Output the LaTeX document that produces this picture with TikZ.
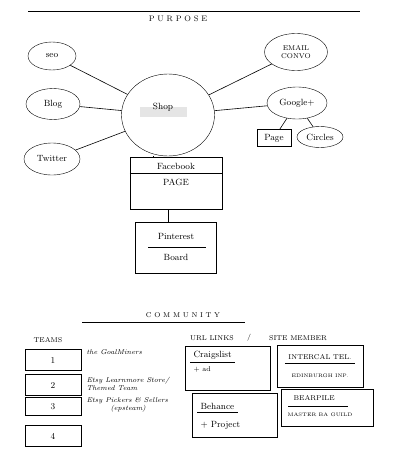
\documentclass[tikz,border=0pt]{standalone}
\usepackage{tikz}
\usetikzlibrary{shapes.geometric,positioning,calc}

\begin{document}
\begin{tikzpicture}[x=1pt,y=-1pt,
    bubble/.style={draw, ellipse, inner sep=0pt, align=center, font=\small},
    card/.style={draw, minimum width=85pt, minimum height=44pt},
    teambox/.style={draw, minimum width=56pt, minimum height=21pt, font=\small},
    note/.style={anchor=west, font=\scriptsize\itshape, align=left},
    link/.style={semithick}
]
\useasboundingbox (0,0) rectangle (405,466);

% purpose header
\coordinate (topl) at (28,11);
\coordinate (topr) at (360,11);
\draw[link] (topl) -- (topr);
\node[font=\footnotesize] (purpose) at (178,19) {P U R P O S E};

% hub
\node[fill=gray!20, minimum width=47pt, minimum height=10pt, inner sep=0pt] (shl) at (163,112) {};
\node[bubble, minimum width=93pt, minimum height=82pt] (shop) at (168,115) {};
\node[font=\small] (shoptxt) at (163,107) {Shop};

% outer bubbles
\node[bubble, minimum width=48pt, minimum height=28pt] (seo) at (52,56) {seo};
\node[bubble, minimum width=54pt, minimum height=31pt] (blog) at (53,104) {Blog};
\node[bubble, minimum width=56pt, minimum height=32pt] (twitter) at (52,159) {Twitter};
\node[bubble, minimum width=63pt, minimum height=37pt, font=\scriptsize] (email) at (296,52) {EMAIL\\CONVO};
\node[bubble, minimum width=60pt, minimum height=32pt] (google) at (297,103) {Google+};
\node[draw, minimum width=34pt, minimum height=17pt, font=\small] (gpage) at (274,138) {Page};
\node[bubble, minimum width=46pt, minimum height=21pt] (circles) at (320,137) {Circles};

\draw[link] (seo) -- (shop);
\draw[link] (blog) -- (shop);
\draw[link] (twitter) -- (shop);
\draw[link] (email) -- (shop);
\draw[link] (google) -- (shop);
\draw[link] (google) -- (gpage);
\draw[link] (google) -- (circles);

% facebook and pinterest
\node[draw, minimum width=92pt, minimum height=52pt] (fb) at (176,183) {};
\node[font=\small] (fbtitle) at (176,166) {Facebook};
\node[font=\small] (fbpage) at (176,182) {PAGE};
\draw[link] ([yshift=-16pt]fb.north west) -- ([yshift=-16pt]fb.north east);
\node[draw, minimum width=81pt, minimum height=51pt] (pin) at (176,248) {};
\node[font=\small] (pintitle) at (176,236) {Pinterest};
\node[font=\small] (pinboard) at (176,257) {Board};
\draw[link] ([xshift=13pt,yshift=-25pt]pin.north west) -- ([xshift=-11pt,yshift=-25pt]pin.north east);

\draw[link] (shop.south -| fbtitle.west) -- (fb.north -| fbtitle.west);
\draw[link] ([xshift=-8pt]fb.south) -- ([xshift=-8pt]pin.north);

% community header
\node[font=\scriptsize] (community) at (183,315) {C O M M U N I T Y};
\coordinate (coml) at (82,322);
\coordinate (comr) at (245,322);
\draw[link] (coml) -- (comr);

% teams
\node[font=\scriptsize] (teams) at (48,340) {TEAMS};
\node[teambox] (t1) at (53,360) {1};
\node[teambox] (t2) at (53,385) {2};
\node[teambox, minimum height=18pt] (t3) at (53,406.5) {3};
\node[teambox] (t4) at (53,436) {4};
\node[note] (n1) at (83,352) {the GoalMiners};
\node[note] (n2) at (83,384) {Etsy Learnmore Store/\\Themed Team};
\node[note] (n3) at (83,405) {Etsy Pickers \& Sellers\\\hspace*{24pt}(epsteam)};

% url links / site member
\node[font=\scriptsize] (urls) at (212,338) {URL LINKS};
\node[font=\scriptsize] (slash) at (249,338) {/};
\node[font=\scriptsize] (sites) at (298,338) {SITE MEMBER};

\node[card] (craig) at (228,368) {};
\node[font=\small, anchor=west] (craigt) at (190,355) {Craigslist};
\node[font=\scriptsize, anchor=west] (craigad) at (190,369) {+ ad};
\draw[link] (craigt.south west) -- (craigt.south east);

\node[card] (beh) at (235,415) {};
\node[font=\small, anchor=west] (beht) at (197,406) {Behance};
\node[font=\small, anchor=west] (behp) at (197,425) {+ Project};
\draw[link] (beht.south west) -- (beht.south east);

\node[card, minimum width=86pt, minimum height=42pt] (inter) at (320,366) {};
\node[font=\scriptsize] (intert) at (320,357) {INTERCAL TEL.};
\node[font=\tiny] (edin) at (320,376) {EDINBURGH INP.};
\draw[link] (intert.south west) -- (intert.south east);

\node[card, minimum width=92pt, minimum height=37pt] (bear) at (327,408) {};
\node[font=\scriptsize, anchor=west] (beart) at (290,398) {BEARPILE};
\node[font=\tiny] (guild) at (320,415) {MASTER BA GUILD};
\draw[link] ([xshift=-2pt,yshift=-2pt]beart.south west) -- ++(60,0);
\end{tikzpicture}
\end{document}
